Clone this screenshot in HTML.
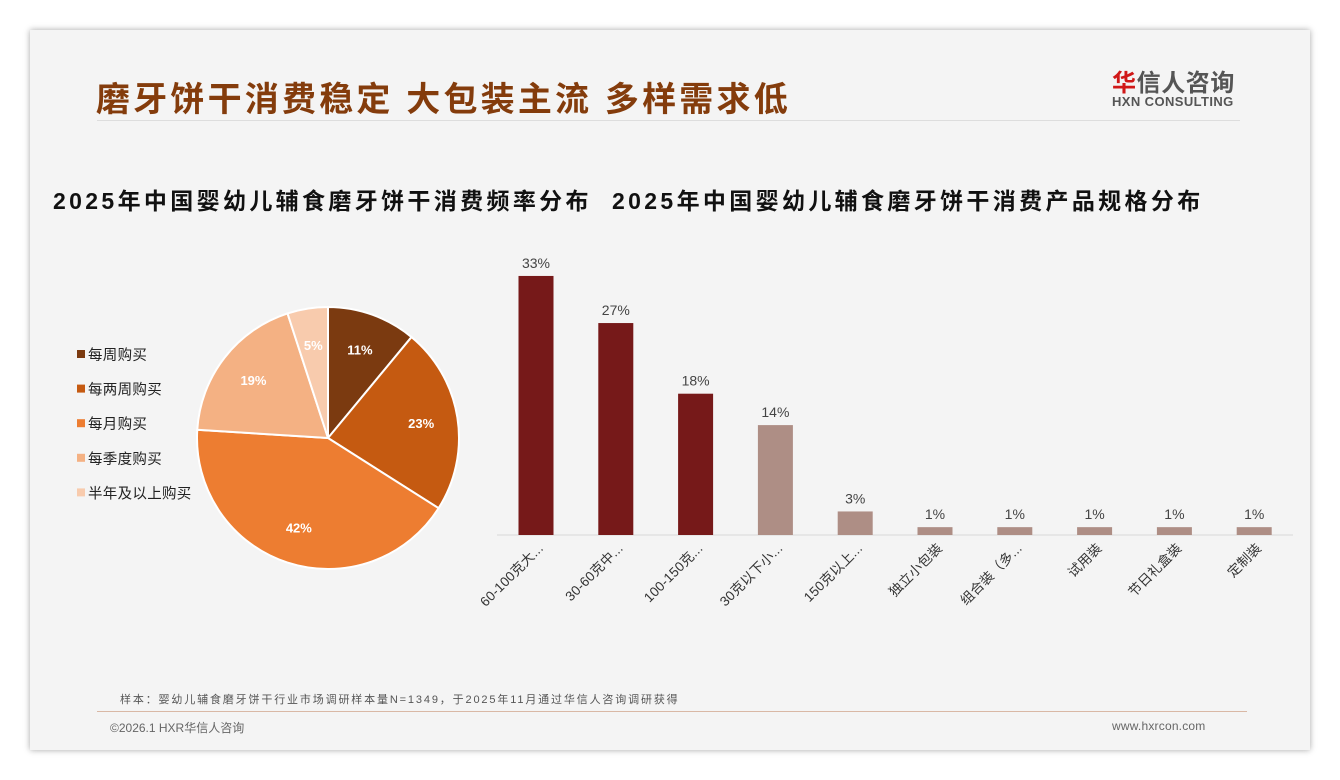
<!DOCTYPE html>
<html><head><meta charset="utf-8"><style>
body{margin:0;width:1340px;height:780px;background:#fff;font-family:"Liberation Sans","Noto Sans CJK SC",sans-serif;position:relative;overflow:hidden}
.card{position:absolute;left:30px;top:30px;width:1280px;height:720px;background:#f4f4f4;box-shadow:0 0 6px rgba(0,0,0,.35)}
.abs{position:absolute;white-space:nowrap}
</style></head><body>
<div class="card"></div>
<div class="abs" style="left:96px;top:72px;font-size:34px;font-weight:bold;color:#843c0c;letter-spacing:3.2px">磨牙饼干消费稳定 大包装主流 多样需求低</div>
<div class="abs" style="left:1112px;top:63px;font-size:24px;color:#555;font-weight:bold;letter-spacing:0.6px"><span style="color:#d01818">华</span>信人咨询</div>
<div class="abs" style="left:1112px;top:94px;font-size:13px;color:#555;font-weight:bold;letter-spacing:0.4px">HXN CONSULTING</div>
<div class="abs" style="left:97px;top:120px;width:1143px;height:1px;background:#ddd"></div>
<div class="abs" style="left:53px;top:182px;font-size:23px;font-weight:bold;color:#111;letter-spacing:3.35px">2025年中国婴幼儿辅食磨牙饼干消费频率分布</div>
<div class="abs" style="left:612px;top:182px;font-size:23px;font-weight:bold;color:#111;letter-spacing:3.35px">2025年中国婴幼儿辅食磨牙饼干消费产品规格分布</div>
<svg class="abs" style="left:0;top:0" width="1340" height="780" id="chart"></svg>
<div class="abs" style="left:120px;top:691px;font-size:11px;color:#555;letter-spacing:1.85px">样本：婴幼儿辅食磨牙饼干行业市场调研样本量N=1349，于2025年11月通过华信人咨询调研获得</div>
<div class="abs" style="left:97px;top:711px;width:1150px;height:1px;background:#d9b8a5"></div>
<div class="abs" style="left:110px;top:719px;font-size:12px;color:#666">©2026.1 HXR华信人咨询</div>
<div class="abs" style="left:1112px;top:719px;font-size:12px;color:#666;letter-spacing:0.2px">www.hxrcon.com</div>
<script>
const pieLabels=["每周购买","每两周购买","每月购买","每季度购买","半年及以上购买"];
const pieValues=[11,23,42,19,5];
const pieColors=["#7b3a10","#c55a11","#ed7d31","#f4b183","#f8cbad"];
const barCats=["60-100克大...","30-60克中...","100-150克...","30克以下小...","150克以上...","独立小包装","组合装（多...","试用装","节日礼盒装","定制装"];
const barValues=[33,27,18,14,3,1,1,1,1,1];
const NS="http://www.w3.org/2000/svg";
const svg=document.getElementById('chart');
function mk(t,a){const e=document.createElementNS(NS,t);for(const k in a)e.setAttribute(k,a[k]);svg.appendChild(e);return e;}
const cx=328,cy=438,r=131,tot=pieValues.reduce((a,b)=>a+b,0);
let ang=-Math.PI/2;
pieValues.forEach((v,i)=>{
 const a2=ang+v/tot*2*Math.PI;
 const x1=cx+r*Math.cos(ang),y1=cy+r*Math.sin(ang),x2=cx+r*Math.cos(a2),y2=cy+r*Math.sin(a2);
 const p=mk('path',{d:`M${cx},${cy}L${x1},${y1}A${r},${r} 0 ${a2-ang>Math.PI?1:0} 1 ${x2},${y2}Z`,fill:pieColors[i],stroke:'#fff','stroke-width':2});
 
 
 const m=(ang+a2)/2,lr=r*0.72;
 const t=mk('text',{x:cx+lr*Math.cos(m),y:cy+lr*Math.sin(m)+5,'text-anchor':'middle','font-size':13,'font-weight':'bold',fill:'#fff'});
 t.textContent=v+'%';
 
 
 ang=a2;
});
pieLabels.forEach((l,i)=>{
 const y=355+i*34.6;
 const s=mk('rect',{x:77,y:y-5,width:8,height:8,fill:pieColors[i]});
 
 
 const t=mk('text',{x:88,y:y+5,'font-size':14.5,fill:'#222','letter-spacing':0.3});t.textContent=l;
 
 
});
const base=535,scale=7.85,x0=536,step=79.8,bw=35;
const ax=mk('line',{x1:497,y1:base,x2:1293,y2:base,stroke:'#d9d9d9'});


barValues.forEach((v,i)=>{
 const x=x0+i*step,h=v*scale;
 const b=mk('rect',{x:x-bw/2,y:base-h,width:bw,height:h,fill:i<3?'#761919':'#ae8e85'});
 
 
 const t=mk('text',{x:x,y:base-h-8,'text-anchor':'middle','font-size':14,fill:'#444'});t.textContent=v+'%';
 
 
 const c=mk('text',{x:x+8,y:base+14,'text-anchor':'end','font-size':13.5,fill:'#333','letter-spacing':0.2,transform:`rotate(-45 ${x+8} ${base+14})`});c.textContent=barCats[i];
 
 
});
</script>
</body></html>
